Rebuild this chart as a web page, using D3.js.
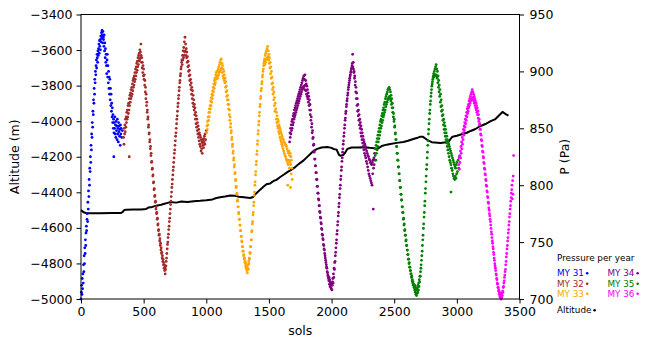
<!DOCTYPE html>
<html><head><meta charset="utf-8">
<script src="https://cdn.jsdelivr.net/npm/d3@7"></script>
<style>
html,body{margin:0;padding:0;background:#fff;}
svg{display:block;font-family:"DejaVu Sans",sans-serif;}
</style></head>
<body><svg id="c" width="653" height="348"></svg>
<script>
// ---- data (sol, pressure Pa) ----
const MY31 = [[0,700],[3,706],[5,712],[8,704],[10,718],[12,709],[15,722],[18,714],[20,730],[23,724],[25,738],[28,731],[30,745],[33,740],[35,752],[38,747],[40,758],[43,764],[45,760],[48,770],[50,775],[53,768],[55,785],[58,779],[60,795],[63,790],[65,805],[68,800],[70,815],[73,812],[75,825],[78,820],[80,835],[83,831],[85,845],[88,842],[90,855],[93,851],[95,865],[98,862],[100,875],[103,872],[105,885],[108,880],[110,893],[113,890],[115,900],[118,897],[120,905],[123,910],[125,903],[128,915],[130,912],[133,908],[135,918],[138,914],[140,920],[143,924],[145,916],[148,927],[150,922],[153,928],[155,919],[158,931],[160,926],[163,934],[165,929],[168,936],[170,932],[173,925],[175,935],[178,930],[180,928],[183,922],[185,932],[188,918],[190,925],[193,912],[195,920],[198,908],[200,915],[203,905],[205,898],[208,910],[210,915],[213,895],[215,905],[218,890],[220,900],[223,885],[225,895],[228,880],[230,893],[233,875],[235,885],[238,870],[240,880],[243,865],[245,872],[248,860],[250,868],[253,855],[255,862],[258,850],[260,858],[263,846],[265,855],[268,850],[270,860],[273,845],[275,853],[278,842],[280,856],[283,848],[285,852],[288,840],[290,858],[293,845],[295,850],[298,838],[300,855],[303,847],[305,852],[308,843],[310,849],[313,835],[315,853],[318,845],[320,850],[325,842],[330,848],[262,825]];
const MY32 = [[340,842],[343,836],[345,850],[348,845],[350,853],[353,847],[355,858],[358,851],[360,860],[363,855],[365,864],[368,858],[370,866],[373,860],[375,870],[378,863],[380,872],[383,866],[385,876],[388,870],[390,879],[393,873],[395,881],[398,876],[400,884],[403,878],[405,886],[408,880],[410,889],[413,883],[415,892],[418,886],[420,894],[423,888],[425,896],[428,891],[430,899],[433,893],[435,902],[438,896],[440,904],[443,899],[445,907],[448,901],[450,909],[453,904],[455,912],[458,906],[460,914],[463,909],[465,916],[468,910],[470,919],[473,912],[475,917],[478,924],[480,914],[483,908],[485,912],[488,903],[490,908],[493,899],[495,905],[498,896],[500,902],[503,893],[505,897],[508,888],[510,892],[513,882],[515,886],[518,876],[520,880],[523,870],[525,873],[528,864],[530,866],[533,858],[535,860],[538,851],[540,853],[543,845],[545,846],[548,838],[550,840],[553,832],[555,834],[558,826],[560,828],[563,820],[565,821],[568,814],[570,815],[573,808],[575,809],[578,802],[580,803],[583,796],[585,797],[588,790],[590,791],[593,785],[595,786],[598,779],[600,781],[603,775],[605,776],[608,770],[610,771],[613,765],[615,766],[618,760],[620,761],[623,756],[625,757],[628,751],[630,753],[633,747],[635,749],[638,743],[640,745],[643,740],[645,741],[648,736],[650,738],[653,733],[655,735],[658,730],[660,732],[663,727],[665,730],[668,725],[670,728],[672,722],[675,726],[678,729],[680,733],[683,736],[685,740],[688,744],[690,748],[693,750],[695,754],[698,757],[700,761],[703,764],[705,768],[708,771],[710,775],[713,779],[715,783],[718,786],[720,790],[723,794],[725,798],[728,801],[730,805],[733,809],[735,813],[738,816],[740,820],[743,824],[745,828],[748,831],[750,835],[753,839],[755,843],[758,846],[760,850],[763,854],[765,858],[768,861],[770,865],[773,869],[775,872],[778,876],[780,879],[783,883],[785,886],[788,890],[790,892],[793,896],[795,898],[798,902],[800,904],[803,908],[805,910],[808,906],[810,914],[813,910],[815,918],[818,912],[820,921],[823,914],[825,926],[828,917],[830,930],[833,918],[835,924],[838,914],[840,920],[843,912],[845,917],[848,908],[850,913],[853,904],[855,909],[858,900],[860,905],[863,896],[865,901],[868,892],[870,897],[873,888],[875,893],[878,884],[880,890],[883,880],[885,886],[888,876],[890,883],[893,872],[895,879],[898,869],[900,875],[903,866],[905,871],[908,862],[910,868],[913,858],[915,864],[918,854],[920,861],[923,851],[925,858],[928,848],[930,855],[933,845],[935,852],[938,842],[940,849],[943,839],[945,846],[948,836],[950,844],[953,834],[955,842],[958,830],[960,840],[963,832],[965,838],[968,828],[970,837],[973,835],[975,840],[978,833],[980,841],[983,838],[985,843],[988,836],[990,845],[995,840],[1000,848],[385,825]];
const MY33 = [[1003,846],[1005,852],[1008,849],[1010,856],[1013,853],[1015,860],[1018,857],[1020,864],[1023,860],[1025,867],[1028,864],[1030,870],[1033,867],[1035,874],[1038,870],[1040,877],[1043,873],[1045,880],[1048,876],[1050,883],[1053,879],[1055,886],[1058,882],[1060,889],[1063,885],[1065,892],[1068,888],[1070,894],[1073,890],[1075,897],[1078,893],[1080,899],[1083,895],[1085,900],[1088,894],[1090,900],[1093,896],[1095,902],[1098,897],[1100,904],[1103,899],[1105,906],[1108,900],[1110,908],[1113,901],[1115,910],[1118,902],[1120,911],[1123,903],[1125,907],[1128,899],[1130,905],[1133,896],[1135,902],[1138,894],[1140,900],[1143,892],[1145,897],[1148,890],[1150,894],[1153,886],[1155,891],[1158,882],[1160,887],[1163,878],[1165,883],[1168,875],[1170,879],[1173,871],[1175,875],[1178,867],[1180,871],[1183,862],[1185,866],[1188,857],[1190,860],[1193,851],[1195,854],[1198,846],[1200,848],[1203,840],[1205,842],[1208,834],[1210,836],[1213,828],[1215,830],[1218,822],[1220,824],[1223,816],[1225,818],[1228,810],[1230,811],[1233,804],[1235,805],[1238,798],[1240,799],[1243,792],[1245,793],[1248,786],[1250,787],[1253,781],[1255,781],[1258,775],[1260,776],[1263,770],[1265,770],[1268,765],[1270,765],[1273,760],[1275,760],[1278,755],[1280,755],[1283,751],[1285,750],[1288,746],[1290,746],[1293,742],[1295,742],[1298,738],[1300,739],[1303,735],[1305,736],[1308,732],[1310,733],[1313,729],[1315,731],[1318,727],[1320,729],[1323,725],[1325,728],[1328,723],[1330,727],[1333,730],[1335,726],[1338,733],[1340,731],[1343,736],[1345,735],[1348,741],[1350,740],[1353,746],[1355,746],[1358,752],[1360,752],[1363,759],[1365,760],[1368,766],[1370,768],[1373,774],[1375,776],[1378,782],[1380,785],[1383,791],[1385,794],[1388,800],[1390,803],[1393,809],[1395,812],[1398,818],[1400,821],[1403,827],[1405,830],[1408,836],[1410,839],[1413,845],[1415,848],[1418,853],[1420,856],[1423,861],[1425,864],[1428,869],[1430,871],[1433,876],[1435,878],[1438,883],[1440,885],[1443,889],[1445,891],[1448,895],[1450,897],[1453,900],[1455,902],[1458,905],[1460,907],[1463,909],[1465,911],[1468,906],[1470,914],[1473,908],[1475,916],[1478,910],[1480,918],[1483,911],[1485,920],[1488,912],[1490,922],[1493,913],[1495,918],[1498,910],[1500,915],[1503,907],[1505,912],[1508,903],[1510,908],[1513,898],[1515,904],[1518,894],[1520,900],[1523,889],[1525,895],[1528,884],[1530,890],[1533,880],[1535,886],[1538,875],[1540,882],[1543,870],[1545,877],[1548,865],[1550,872],[1555,867],[1558,858],[1560,864],[1563,855],[1565,861],[1568,852],[1570,858],[1573,850],[1575,856],[1578,847],[1580,853],[1583,845],[1585,851],[1588,842],[1590,849],[1593,840],[1595,847],[1598,838],[1600,845],[1603,836],[1605,843],[1608,834],[1610,841],[1613,832],[1615,840],[1618,830],[1620,838],[1623,828],[1625,837],[1628,826],[1630,836],[1633,825],[1635,835],[1638,823],[1640,834],[1643,822],[1645,832],[1648,820],[1650,830],[1653,818],[1655,828],[1658,822],[1660,830],[1663,815],[1665,826],[1668,820],[1670,828],[1673,818],[1675,825],[1678,810],[1680,822],[1683,815],[1686,805],[1650,800],[1672,798]];
const MY34 = [[1665,838],[1668,846],[1670,842],[1673,850],[1675,845],[1678,853],[1680,848],[1683,856],[1685,850],[1688,858],[1690,853],[1693,861],[1695,855],[1698,863],[1700,858],[1703,866],[1705,860],[1708,868],[1710,862],[1713,870],[1715,864],[1718,872],[1720,866],[1723,874],[1725,868],[1728,876],[1730,870],[1733,878],[1735,872],[1738,880],[1740,874],[1743,882],[1745,876],[1748,884],[1750,878],[1753,886],[1755,880],[1758,888],[1760,882],[1763,890],[1765,884],[1768,892],[1770,885],[1773,894],[1775,886],[1778,896],[1780,887],[1783,893],[1785,884],[1788,897],[1790,888],[1793,892],[1795,883],[1798,889],[1800,880],[1803,887],[1805,878],[1808,884],[1810,876],[1813,881],[1815,873],[1818,878],[1820,870],[1823,875],[1825,866],[1828,871],[1830,862],[1833,866],[1835,857],[1838,860],[1840,851],[1843,854],[1845,846],[1848,848],[1850,841],[1853,842],[1855,835],[1858,836],[1860,829],[1863,830],[1865,823],[1868,823],[1870,817],[1873,817],[1875,811],[1878,811],[1880,805],[1883,805],[1885,799],[1888,799],[1890,793],[1893,793],[1895,788],[1898,787],[1900,782],[1903,782],[1905,777],[1908,776],[1910,772],[1913,771],[1915,767],[1918,766],[1920,762],[1923,761],[1925,757],[1928,756],[1930,753],[1933,752],[1935,748],[1938,747],[1940,744],[1943,743],[1945,740],[1948,738],[1950,736],[1953,734],[1955,732],[1958,730],[1960,728],[1963,727],[1965,724],[1968,723],[1970,721],[1973,720],[1975,718],[1978,716],[1980,719],[1983,713],[1985,717],[1988,711],[1990,715],[1993,710],[1995,714],[1998,709],[2000,713],[2003,708],[2005,712],[2008,715],[2010,718],[2013,714],[2015,722],[2018,719],[2020,727],[2023,726],[2025,732],[2028,733],[2030,738],[2033,741],[2035,745],[2038,749],[2040,752],[2043,757],[2045,760],[2048,765],[2050,768],[2053,773],[2055,776],[2058,781],[2060,784],[2063,789],[2065,792],[2068,797],[2070,800],[2073,805],[2075,808],[2078,813],[2080,816],[2083,821],[2085,824],[2088,829],[2090,832],[2093,836],[2095,839],[2098,843],[2100,846],[2103,850],[2105,853],[2108,857],[2110,859],[2113,863],[2115,865],[2118,869],[2120,871],[2123,874],[2125,876],[2128,879],[2130,881],[2133,884],[2135,886],[2138,888],[2140,890],[2143,892],[2145,894],[2148,896],[2150,897],[2153,899],[2155,900],[2158,902],[2160,903],[2163,905],[2165,907],[2168,915],[2170,904],[2173,908],[2175,902],[2178,899],[2180,900],[2183,894],[2185,896],[2188,888],[2190,891],[2193,882],[2195,886],[2198,876],[2200,881],[2203,870],[2205,876],[2208,865],[2210,871],[2213,861],[2215,866],[2218,857],[2220,862],[2223,853],[2225,858],[2228,850],[2230,855],[2233,846],[2235,852],[2238,843],[2240,849],[2243,840],[2245,846],[2248,837],[2250,843],[2253,834],[2255,840],[2258,831],[2260,838],[2263,828],[2265,836],[2268,826],[2270,834],[2273,824],[2275,832],[2278,821],[2280,830],[2283,819],[2285,828],[2288,816],[2290,826],[2293,813],[2295,825],[2298,810],[2300,823],[2303,808],[2305,822],[2308,806],[2310,820],[2313,804],[2315,819],[2318,802],[2320,818],[2323,800],[2325,820],[2328,810],[2330,822],[2333,779],[2335,815],[2338,824],[2340,818],[2343,828],[2345,822]];
const MY35 = [[2348,826],[2350,832],[2353,822],[2355,835],[2358,828],[2360,838],[2363,831],[2365,841],[2368,834],[2370,844],[2373,838],[2375,847],[2378,841],[2380,850],[2383,844],[2385,853],[2388,847],[2390,856],[2393,850],[2395,858],[2398,852],[2400,861],[2403,855],[2405,863],[2408,857],[2410,866],[2413,860],[2415,868],[2418,862],[2420,871],[2423,864],[2425,873],[2428,866],[2430,876],[2433,869],[2435,878],[2438,871],[2440,880],[2443,873],[2445,882],[2448,875],[2450,884],[2453,876],[2455,885],[2458,877],[2460,886],[2463,878],[2465,884],[2468,876],[2470,882],[2473,874],[2475,879],[2478,871],[2480,876],[2483,868],[2485,872],[2488,864],[2490,868],[2493,860],[2495,863],[2498,856],[2500,858],[2503,851],[2505,852],[2508,845],[2510,846],[2513,840],[2515,840],[2518,834],[2520,834],[2523,828],[2525,828],[2528,822],[2530,822],[2533,816],[2535,816],[2538,810],[2540,810],[2543,804],[2545,804],[2548,798],[2550,798],[2553,792],[2555,792],[2558,787],[2560,787],[2563,781],[2565,781],[2568,776],[2570,776],[2573,770],[2575,771],[2578,765],[2580,766],[2583,760],[2585,761],[2588,756],[2590,756],[2593,751],[2595,752],[2598,747],[2600,747],[2603,743],[2605,743],[2608,739],[2610,739],[2613,735],[2615,735],[2618,731],[2620,732],[2623,728],[2625,728],[2628,725],[2630,725],[2633,722],[2635,722],[2638,719],[2640,720],[2643,716],[2645,717],[2648,714],[2650,715],[2653,712],[2655,713],[2658,710],[2660,711],[2663,708],[2665,712],[2668,706],[2670,710],[2673,704],[2675,709],[2678,703],[2680,708],[2683,705],[2685,710],[2688,706],[2690,712],[2693,708],[2695,714],[2698,711],[2700,717],[2703,715],[2705,720],[2708,720],[2710,724],[2713,727],[2715,730],[2718,734],[2720,738],[2723,742],[2725,747],[2728,752],[2730,756],[2733,762],[2735,766],[2738,772],[2740,776],[2743,782],[2745,786],[2748,793],[2750,797],[2753,803],[2755,808],[2758,814],[2760,818],[2763,824],[2765,829],[2768,835],[2770,839],[2773,845],[2775,849],[2778,854],[2780,858],[2783,863],[2785,866],[2788,871],[2790,874],[2793,878],[2795,881],[2798,884],[2800,887],[2803,889],[2805,891],[2808,893],[2810,895],[2813,896],[2815,898],[2818,895],[2820,900],[2823,896],[2825,902],[2828,897],[2830,904],[2833,897],[2835,906],[2838,896],[2840,902],[2843,894],[2845,900],[2848,890],[2850,896],[2853,886],[2855,892],[2858,882],[2860,888],[2863,878],[2865,884],[2868,873],[2870,880],[2873,869],[2875,875],[2878,865],[2880,870],[2883,861],[2885,866],[2888,857],[2890,862],[2893,853],[2895,858],[2898,849],[2900,855],[2903,846],[2905,852],[2908,843],[2910,849],[2913,840],[2915,846],[2918,837],[2920,843],[2923,834],[2925,840],[2928,831],[2930,838],[2933,828],[2935,836],[2938,825],[2940,834],[2943,822],[2945,832],[2948,820],[2950,830],[2953,818],[2955,828],[2958,815],[2960,826],[2963,813],[2965,824],[2968,810],[2970,822],[2973,808],[2975,820],[2978,806],[2980,818],[2983,805],[2985,816],[2988,808],[2990,815],[2993,806],[2995,818],[2998,810],[3000,820],[3005,812],[3010,822],[3015,815],[3020,825],[2953,794]];
const MY36 = [[3015,818],[3018,824],[3020,814],[3023,826],[3025,820],[3028,830],[3030,824],[3033,834],[3035,828],[3038,838],[3040,832],[3043,842],[3045,836],[3048,846],[3050,840],[3053,849],[3055,844],[3058,852],[3060,848],[3063,855],[3065,851],[3068,858],[3070,854],[3073,861],[3075,857],[3078,864],[3080,860],[3083,867],[3085,863],[3088,869],[3090,865],[3093,871],[3095,868],[3098,874],[3100,870],[3103,876],[3105,872],[3108,878],[3110,874],[3113,880],[3115,875],[3118,882],[3120,876],[3123,884],[3125,877],[3128,882],[3130,875],[3133,880],[3135,874],[3138,878],[3140,872],[3143,876],[3145,870],[3148,874],[3150,868],[3153,872],[3155,866],[3158,870],[3160,864],[3163,868],[3165,862],[3168,865],[3170,859],[3173,862],[3175,856],[3178,858],[3180,853],[3183,854],[3185,849],[3188,849],[3190,845],[3193,844],[3195,840],[3198,839],[3200,835],[3203,834],[3205,830],[3208,829],[3210,825],[3213,824],[3215,820],[3218,819],[3220,815],[3223,814],[3225,810],[3228,809],[3230,805],[3233,804],[3235,800],[3238,799],[3240,795],[3243,794],[3245,790],[3248,789],[3250,785],[3253,784],[3255,780],[3258,778],[3260,775],[3263,773],[3265,770],[3268,768],[3270,765],[3273,762],[3275,759],[3278,757],[3280,754],[3283,751],[3285,749],[3288,746],[3290,744],[3293,741],[3295,739],[3298,736],[3300,734],[3303,731],[3305,729],[3308,727],[3310,725],[3313,722],[3315,721],[3318,718],[3320,717],[3323,714],[3325,713],[3328,710],[3330,710],[3333,707],[3335,708],[3338,704],[3340,706],[3343,702],[3345,705],[3348,701],[3350,704],[3353,700],[3355,703],[3358,701],[3360,705],[3363,703],[3365,707],[3368,706],[3370,710],[3373,711],[3375,714],[3378,716],[3380,719],[3383,721],[3385,724],[3388,726],[3390,730],[3393,733],[3395,737],[3398,740],[3400,744],[3403,747],[3405,751],[3408,754],[3410,758],[3413,761],[3415,765],[3418,768],[3420,772],[3423,775],[3425,779],[3428,782],[3430,786],[3433,789],[3435,793],[3438,796],[3440,800],[3443,788],[3445,804],[3448,792],[3450,808],[3453,826]];
// altitude (sol, m)
const ALTITUDE = [[0,-4500],[10,-4505],[20,-4512],[40,-4516],[80,-4518],[150,-4518],[250,-4517],[320,-4516],[330,-4512],[345,-4500],[360,-4498],[420,-4497],[480,-4496],[520,-4494],[540,-4485],[570,-4482],[600,-4475],[640,-4470],[680,-4462],[711,-4455],[760,-4458],[800,-4452],[850,-4455],[900,-4450],[951,-4448],[1000,-4445],[1050,-4440],[1080,-4432],[1111,-4428],[1150,-4424],[1191,-4418],[1230,-4420],[1260,-4425],[1300,-4428],[1350,-4432],[1374,-4426],[1400,-4405],[1430,-4385],[1454,-4370],[1480,-4355],[1510,-4350],[1540,-4335],[1560,-4330],[1590,-4314],[1620,-4300],[1650,-4285],[1680,-4272],[1710,-4258],[1740,-4240],[1774,-4222],[1800,-4205],[1830,-4185],[1860,-4165],[1886,-4156],[1920,-4148],[1966,-4145],[2000,-4150],[2014,-4156],[2040,-4160],[2060,-4190],[2070,-4194],[2094,-4190],[2110,-4175],[2126,-4156],[2160,-4148],[2200,-4148],[2269,-4147],[2300,-4150],[2340,-4152],[2365,-4156],[2400,-4140],[2440,-4132],[2469,-4128],[2520,-4122],[2573,-4117],[2610,-4110],[2653,-4100],[2680,-4095],[2709,-4087],[2730,-4088],[2765,-4106],[2800,-4118],[2869,-4123],[2933,-4117],[2950,-4100],[2965,-4087],[3000,-4082],[3045,-4072],[3080,-4065],[3110,-4055],[3149,-4044],[3180,-4030],[3228,-4016],[3270,-4000],[3308,-3988],[3340,-3965],[3364,-3948],[3390,-3960],[3412,-3969]];

const yearNames = ["MY 31","MY 32","MY 33","MY 34","MY 35","MY 36"];
const yearColors = ["#0000ff","#a52a2a","#ffa500","#800080","#008000","#ff00ff"];
const yearData = [MY31, MY32, MY33, MY34, MY35, MY36];
const xTicks = [0,500,1000,1500,2000,2500,3000,3500];
const altTicks = [-5000,-4800,-4600,-4400,-4200,-4000,-3800,-3600,-3400];
const pTicks = [700,750,800,850,900,950];

// ---- layout ----
const svg = d3.select("#c");
const L = 81, R = 519.5, T = 14.5, B = 299;
const FS = 12.5;
const x = d3.scaleLinear().domain([0,3500]).range([L,R]);
const yAlt = d3.scaleLinear().domain([-5000,-3400]).range([B,T]);
const yP = d3.scaleLinear().domain([700,950]).range([B,T]);

const fmt = d => d < 0 ? "\u2212" + Math.abs(d) : String(d);

// altitude line
svg.append("path").datum(ALTITUDE)
  .attr("fill","none").attr("stroke","#000").attr("stroke-width",2).attr("stroke-linejoin","round")
  .attr("d", d3.line().x(d=>x(d[0])).y(d=>yAlt(d[1])));

// pressure scatter
yearData.forEach((data,i)=>{
  svg.append("g").selectAll("circle").data(data).join("circle")
    .attr("cx",d=>x(d[0])).attr("cy",d=>yP(d[1])).attr("r",1.4)
    .attr("fill",yearColors[i]);
});

// frame
svg.append("rect").attr("x",L).attr("y",T).attr("width",R-L).attr("height",B-T)
  .attr("fill","none").attr("stroke","#000").attr("stroke-width",1);

// axes
function styleAxis(g){
  g.select(".domain").remove();
  g.selectAll("line").attr("stroke","#000");
  g.selectAll("text").attr("fill","#000").style("font-size",FS+"px").style("font-family","DejaVu Sans");
}
svg.append("g").attr("transform",`translate(0,${B})`)
  .call(d3.axisBottom(x).tickValues(xTicks).tickSize(4.5).tickPadding(4).tickFormat(d=>String(d)))
  .call(styleAxis);
svg.append("g").attr("transform",`translate(${L},0)`)
  .call(d3.axisLeft(yAlt).tickValues(altTicks).tickSize(4.5).tickPadding(4).tickFormat(fmt))
  .call(styleAxis);
svg.append("g").attr("transform",`translate(${R},0)`)
  .call(d3.axisRight(yP).tickValues(pTicks).tickSize(4.5).tickPadding(5.5).tickFormat(d=>String(d)))
  .call(styleAxis);

// axis titles
svg.append("text").attr("x",(L+R)/2).attr("y",335).attr("text-anchor","middle")
  .style("font-size",FS+"px").text("sols");
svg.append("text").attr("transform",`translate(15,${(T+B)/2}) rotate(-90)`).attr("dy","0.35em")
  .attr("text-anchor","middle").style("font-size",FS+"px").text("Altitude (m)");
svg.append("text").attr("transform",`translate(565,${(T+B)/2}) rotate(-90)`).attr("dy","0.35em")
  .attr("text-anchor","middle").style("font-size",FS+"px").text("P (Pa)");

// legend
const LFS = 8.8;
svg.append("text").attr("x",557).attr("y",261).style("font-size",LFS+"px").text("Pressure per year");
function legItem(label,color,lx,ly){
  const t = svg.append("text").attr("x",lx).attr("y",ly).style("font-size",LFS+"px").attr("fill",color).text(label);
  const w = t.node().getComputedTextLength();
  svg.append("circle").attr("cx",lx+w+3.2).attr("cy",ly-2.7).attr("r",1.3).attr("fill",color);
}
const legRows = [276,286.5,296.5];
yearNames.forEach((n,i)=>{
  legItem(n, yearColors[i], i<3 ? 557 : 607.5, legRows[i%3]);
});
legItem("Altitude","#000",557,313);
</script>
</body></html>
